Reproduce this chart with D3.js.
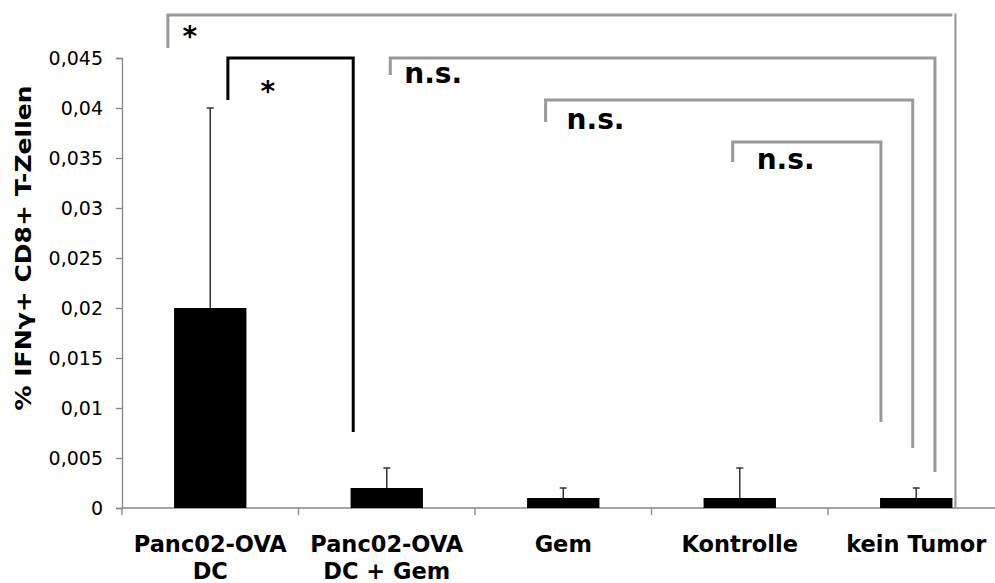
<!DOCTYPE html>
<html><head><meta charset="utf-8">
<script src="https://cdn.jsdelivr.net/npm/d3@7"></script>
<style>body{margin:0;background:#fff}svg{display:block}</style>
</head><body><div id="chart"></div>
<script>
const categories = [["Panc02-OVA","DC"],["Panc02-OVA","DC + Gem"],["Gem"],["Kontrolle"],["kein Tumor"]];
const values = [0.02, 0.002, 0.001, 0.001, 0.001];
const errors = [0.02, 0.002, 0.001, 0.003, 0.001];
const yTicks = [0,0.005,0.01,0.015,0.02,0.025,0.03,0.035,0.04,0.045];
const yLabel = "% IFNγ+ CD8+ T-Zellen";
// significance brackets: from category (with band offset) to category, top level, end levels (data units)
const brackets = [
  {from:0, fromOff:-0.24, to:4, toOff:0.222, top:0.0493, leftEnd:0.046, rightEnd:null, label:"*", color:"#999", dx:22, dy:31},
  {from:0, fromOff:0.10, to:1, toOff:-0.19, top:0.045, leftEnd:0.0408, rightEnd:0.0076, label:"*", color:"#000", dx:40, dy:43},
  {from:1, fromOff:0.02, to:4, toOff:0.106, top:0.045, leftEnd:0.0433, rightEnd:0.0036, label:"n.s.", color:"#999", dx:14, dy:25},
  {from:2, fromOff:-0.10, to:4, toOff:-0.02, top:0.0408, leftEnd:0.0386, rightEnd:0.006, label:"n.s.", color:"#999", dx:21, dy:29},
  {from:3, fromOff:-0.04, to:4, toOff:-0.2, top:0.0366, leftEnd:0.0346, rightEnd:0.0086, label:"n.s.", color:"#999", dx:24, dy:27}
];

const W = 995, H = 583;
const svg = d3.select("#chart").append("svg").attr("width", W).attr("height", H);
const font = "'DejaVu Sans', Verdana, sans-serif";

const x = d3.scaleBand().domain(d3.range(categories.length)).range([122, 1004.5]).padding(0);
const y = d3.scaleLinear().domain([0, 0.045]).range([508, 58]);
const bw = x.bandwidth();
const cx = i => x(i) + bw / 2;

const loc = d3.formatLocale({decimal: ",", thousands: ".", grouping: [3], currency: ["", "€"]});
const fmt = loc.format("~g");

// y axis
const yAxis = d3.axisLeft(y).tickValues(yTicks).tickFormat(fmt).tickSizeOuter(0).tickSize(6).tickPadding(13);
const gy = svg.append("g").attr("transform", "translate(122,0)").call(yAxis);
gy.select(".domain").attr("stroke", "#868686").attr("stroke-width", 1.3);
gy.selectAll(".tick line").attr("stroke", "#868686").attr("stroke-width", 1.3);
gy.selectAll(".tick text").attr("font-family", font).attr("font-size", 19).attr("fill", "#000");

// x axis
const gx = svg.append("g").attr("transform", "translate(0,508)");
gx.append("line").attr("x1", x.range()[0]).attr("x2", x.range()[1]).attr("stroke", "#868686").attr("stroke-width", 1.3);
gx.selectAll("line.tk").data(d3.range(categories.length + 1)).join("line").attr("class", "tk")
  .attr("x1", i => x.range()[0] + i * bw).attr("x2", i => x.range()[0] + i * bw)
  .attr("y1", 0).attr("y2", 7).attr("stroke", "#868686").attr("stroke-width", 1.3);
gx.selectAll("text").data(categories).join("text")
  .attr("text-anchor", "middle").attr("font-family", font).attr("font-weight", "bold").attr("font-size", 22.5)
  .each(function(lines, i) {
    d3.select(this).selectAll("tspan").data(lines).join("tspan")
      .attr("x", cx(i)).attr("y", (d, k) => 44 + k * 27).text(d => d);
  });

// bars
const barW = bw * 0.41;
svg.selectAll("rect.bar").data(values).join("rect").attr("class", "bar")
  .attr("x", (d, i) => cx(i) - barW / 2).attr("width", barW)
  .attr("y", d => y(d)).attr("height", d => y(0) - y(d)).attr("fill", "#000");

// error bars
const eg = svg.append("g").attr("stroke", "#333").attr("stroke-width", 1.5);
values.forEach((v, i) => {
  eg.append("line").attr("x1", cx(i)).attr("x2", cx(i)).attr("y1", y(v)).attr("y2", y(v + errors[i]));
  eg.append("line").attr("x1", cx(i) - 3.5).attr("x2", cx(i) + 3.5).attr("y1", y(v + errors[i])).attr("y2", y(v + errors[i]));
});

// y label
svg.append("text").attr("transform", "translate(31,248) rotate(-90)")
  .attr("text-anchor", "middle").attr("font-family", font).attr("font-weight", "bold").attr("font-size", 21)
  .attr("textLength", 325).attr("lengthAdjust", "spacingAndGlyphs").text(yLabel);

// brackets
brackets.forEach((b) => {
  const x1 = cx(b.from) + b.fromOff * bw;
  const x2 = cx(b.to) + b.toOff * bw;
  const yt = y(b.top);
  let p;
  if (b.rightEnd === null) {
    p = `M${x1},${y(b.leftEnd)}V${yt}H${x2 - 3}`;
    svg.append("line").attr("x1", x2).attr("x2", x2).attr("y1", yt - 1.5).attr("y2", y(0))
      .attr("stroke", b.color).attr("stroke-width", 2.2);
  } else {
    p = `M${x1},${y(b.leftEnd)}V${yt}H${x2}V${y(b.rightEnd)}`;
  }
  svg.append("path").attr("d", p).attr("fill", "none").attr("stroke", b.color).attr("stroke-width", 3);
  const isStar = b.label === "*";
  svg.append("text")
    .attr("x", x1 + b.dx).attr("y", yt + b.dy)
    .attr("text-anchor", isStar ? "middle" : "start")
    .attr("font-family", font).attr("font-weight", "bold").attr("font-size", 28)
    .attr("fill", "#000").text(b.label);
});
</script></body></html>
